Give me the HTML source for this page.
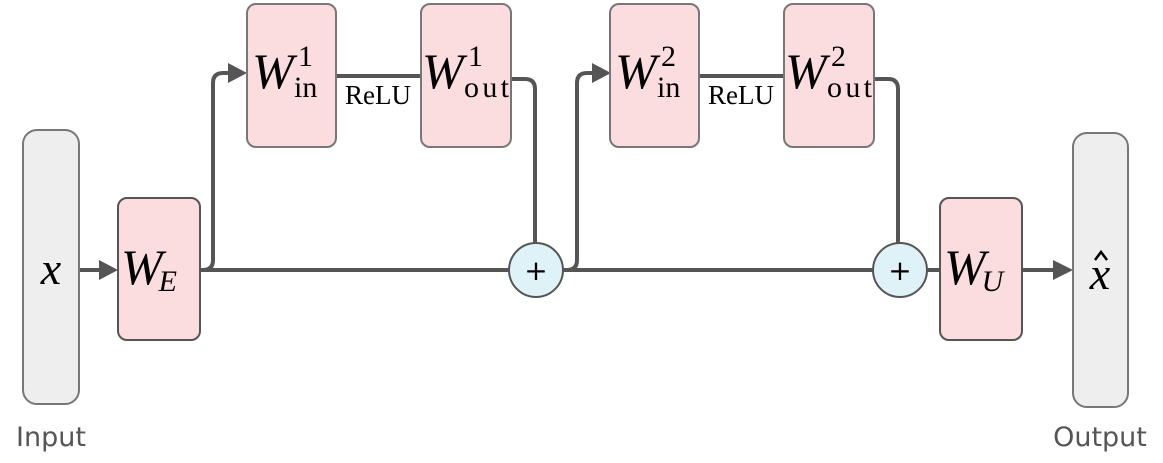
<!DOCTYPE html>
<html><head><style>html,body{margin:0;padding:0;background:#fff}</style></head>
<body>
<svg width="1163" height="458" viewBox="0 0 1163 458" xmlns="http://www.w3.org/2000/svg">
<g fill="none" stroke="#555" stroke-width="4">
<path d="M79 270 H104"/>
<path d="M200 270 H510"/>
<path d="M562 270 H874"/>
<path d="M926 270 H940"/>
<path d="M1022 270 H1058"/>
<path d="M203 270 Q213 270 213 260 V83 Q213 73 223 73 H233"/>
<path d="M567 270 Q577 270 577 260 V83 Q577 73 587 73 H597"/>
<path d="M336 76 H421"/>
<path d="M699 76 H784"/>
<path d="M511 79 H525 Q535 79 535 89 V243"/>
<path d="M874 79 H888 Q898 79 898 89 V243"/>
</g>
<g fill="#555">
<polygon points="99,260 118,270 99,280"/>
<polygon points="228,63 247,73 228,83"/>
<polygon points="592,63 611,73 592,83"/>
<polygon points="1053,260 1073,270 1053,280"/>
</g>
<g stroke="#777" stroke-width="2">
<rect x="23" y="130" width="56" height="274" rx="14" fill="#eee"/>
<rect x="1073" y="133" width="55" height="274" rx="14" fill="#eee"/>
<rect x="118" y="198" width="82" height="142" rx="9" fill="#fbdcdf" stroke="#555"/>
<rect x="940" y="198" width="82" height="142" rx="9" fill="#fbdcdf" stroke="#555"/>
<rect x="247" y="4" width="89" height="143" rx="9" fill="#fbdcdf"/>
<rect x="421" y="4" width="90" height="143" rx="9" fill="#fbdcdf"/>
<rect x="610" y="4" width="89" height="143" rx="9" fill="#fbdcdf"/>
<rect x="784" y="4" width="90" height="143" rx="9" fill="#fbdcdf"/>
<circle cx="536" cy="270" r="27" fill="#dff2f8" stroke="#555"/>
<circle cx="900" cy="270" r="27" fill="#dff2f8" stroke="#555"/>
</g>
<path d="M1095 260 L1101 252 L1107 260" fill="none" stroke="#000" stroke-width="2.5"/>
<g font-family="Liberation Serif, serif" fill="#000">
<text x="51" y="284" font-size="46" font-style="italic" text-anchor="middle">x</text>
<text x="1100" y="289" font-size="46" font-style="italic" text-anchor="middle">x</text>
<text x="121" y="284" font-size="50" font-style="italic">W<tspan font-size="30" dx="-4" dy="7">E</tspan></text>
<text x="944" y="284" font-size="50" font-style="italic">W<tspan font-size="30" dx="-4" dy="7">U</tspan></text>
<text x="252" y="88" font-size="50" font-style="italic">W</text>
<text x="298" y="66" font-size="30">1</text>
<text x="294" y="97" font-size="30">in</text>
<text x="422" y="88" font-size="50" font-style="italic">W</text>
<text x="468" y="66" font-size="30">1</text>
<text x="464" y="97" font-size="30" textLength="45">out</text>
<text x="615" y="88" font-size="50" font-style="italic">W</text>
<text x="661" y="66" font-size="30">2</text>
<text x="657" y="97" font-size="30">in</text>
<text x="785" y="88" font-size="50" font-style="italic">W</text>
<text x="831" y="66" font-size="30">2</text>
<text x="827" y="97" font-size="30" textLength="45">out</text>
<text x="378" y="104" font-size="27" text-anchor="middle">ReLU</text>
<text x="741" y="104" font-size="27" text-anchor="middle">ReLU</text>
</g>
<g font-family="DejaVu Sans, sans-serif" fill="#000">
<text x="536" y="280" font-size="28" text-anchor="middle">+</text>
<text x="900" y="280" font-size="28" text-anchor="middle">+</text>
</g>
<g font-family="DejaVu Sans, Liberation Sans, sans-serif" fill="#555" font-size="27">
<text x="51" y="446" text-anchor="middle">Input</text>
<text x="1100" y="446" text-anchor="middle">Output</text>
</g>
</svg>
</body></html>
